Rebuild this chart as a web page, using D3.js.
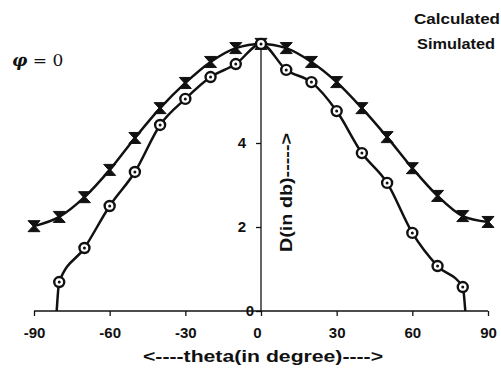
<!DOCTYPE html>
<html>
<head>
<meta charset="utf-8">
<script src="https://cdn.jsdelivr.net/npm/d3@7"></script>
<style>
  body { margin: 0; background: #fff; }
  svg { display: block; }
  text { font-family: 'Liberation Sans', Arial, sans-serif; font-weight: bold; fill: #111; }
</style>
</head>
<body>
<svg id="chart" width="501" height="374"></svg>
<script>
// theta in degrees, D in db
var thetaCalc = [-90, -80, -70, -60, -50, -40, -30, -20, -10, 0, 10, 20, 30, 40, 50, 60, 70, 80, 90];
var calculated = [2.02, 2.24, 2.71, 3.36, 4.12, 4.83, 5.43, 5.93, 6.26, 6.36, 6.26, 5.93, 5.45, 4.83, 4.14, 3.40, 2.74, 2.26, 2.12];

var thetaSim = [-80, -70, -60, -50, -40, -30, -20, -10, 0, 10, 20, 30, 40, 50, 60, 70, 80];
var simulated = [0.69, 1.50, 2.50, 3.31, 4.43, 5.05, 5.57, 5.88, 6.36, 5.74, 5.45, 4.76, 3.76, 3.05, 1.86, 1.07, 0.57];
// where the simulated curve meets the axis
var simEnds = [[-81, 0], [81, 0]];

var xTicks = [-90, -60, -30, 0, 30, 60, 90];
var yTicks = [0, 2, 4];

var svg = d3.select('#chart');

var x = d3.scaleLinear().domain([-90, 90]).range([34, 488]);
var y = d3.scaleLinear().domain([0, 6.5]).range([311, 38]);

// x axis
var xAxis = d3.axisBottom(x).tickValues(xTicks).tickSize(5).tickPadding(11)
  .tickFormat(function(d) { return d; });
var gx = svg.append('g').attr('transform', 'translate(0,' + y(0) + ')').call(xAxis);
gx.select('.domain').attr('d', 'M' + x(-90) + ',0H' + x(90)).attr('stroke', '#111').attr('stroke-width', 1.5);
gx.selectAll('.tick line').attr('stroke', '#111').attr('stroke-width', 1.3);
gx.selectAll('.tick text').style('font-size', '15px').attr('dy', '0.71em')
  .attr('dx', function(d) { return d === 0 ? -4 : 0; });

// y axis through theta = 0
var yAxis = d3.axisLeft(y).tickValues(yTicks).tickSize(5).tickPadding(10)
  .tickFormat(function(d) { return d; });
var gy = svg.append('g').attr('transform', 'translate(' + x(0) + ',0)').call(yAxis);
gy.select('.domain').attr('d', 'M0,' + y(0) + 'V' + y(6.5)).attr('stroke', '#111').attr('stroke-width', 1.3);
gy.selectAll('.tick line').attr('stroke', '#111').attr('stroke-width', 1.3);
gy.selectAll('.tick text').style('font-size', '15px')
  .attr('dx', function(d) { return d === 0 ? 8 : 0; });

var line = d3.line()
  .x(function(d) { return x(d[0]); })
  .y(function(d) { return y(d[1]); })
  .curve(d3.curveMonotoneX);

var calcPts = thetaCalc.map(function(t, i) { return [t, calculated[i]]; });
var simPts = thetaSim.map(function(t, i) { return [t, simulated[i]]; });
var simLine = [simEnds[0]].concat(simPts, [simEnds[1]]);

svg.append('path').datum(calcPts).attr('d', line)
  .attr('fill', 'none').attr('stroke', '#111').attr('stroke-width', 2.5);
svg.append('path').datum(simLine).attr('d', line)
  .attr('fill', 'none').attr('stroke', '#111').attr('stroke-width', 2.5);

// hourglass markers
svg.selectAll('.calc').data(calcPts).enter().append('path')
  .attr('class', 'calc')
  .attr('transform', function(d) { return 'translate(' + x(d[0]) + ',' + y(d[1]) + ')'; })
  .attr('d', 'M-6,-5.5L6,-5.5L1,0L6,5.5L-6,5.5L-1,0Z')
  .attr('fill', '#111').attr('stroke', '#111').attr('stroke-width', 1);

// circle markers
var sm = svg.selectAll('.sim').data(simPts).enter().append('g')
  .attr('class', 'sim')
  .attr('transform', function(d) { return 'translate(' + x(d[0]) + ',' + y(d[1]) + ')'; });
sm.append('circle').attr('r', 5).attr('fill', '#fff').attr('stroke', '#111').attr('stroke-width', 2.4);
sm.append('circle').attr('r', 1.5).attr('fill', '#111');

// axis titles
svg.append('text').attr('x', 143).attr('y', 362)
  .attr('textLength', 240).attr('lengthAdjust', 'spacingAndGlyphs')
  .style('font-size', '16px').text('<----theta(in degree)---->');
svg.append('text').attr('transform', 'translate(292,252) rotate(-90)')
  .attr('textLength', 119).attr('lengthAdjust', 'spacingAndGlyphs')
  .style('font-size', '16px').text('D(in db)----->');

// annotations
svg.append('text').attr('x', 12).attr('y', 66)
  .style('font-family', "'DejaVu Serif', 'Liberation Serif', serif").style('font-weight', 'normal')
  .style('font-size', '17px').html('<tspan font-style="italic" font-weight="bold">\u03c6</tspan> = 0');
svg.append('text').attr('x', 414).attr('y', 24)
  .attr('textLength', 86).attr('lengthAdjust', 'spacingAndGlyphs')
  .style('font-size', '15px').text('Calculated');
svg.append('text').attr('x', 417).attr('y', 49)
  .attr('textLength', 78).attr('lengthAdjust', 'spacingAndGlyphs')
  .style('font-size', '15px').text('Simulated');
</script>
</body>
</html>
